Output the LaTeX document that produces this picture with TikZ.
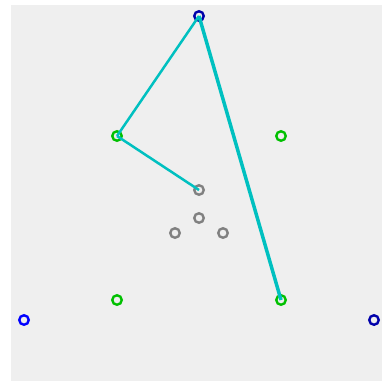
\documentclass[tikz,border=0pt]{standalone}
\usepackage{xcolor}
\definecolor{panelGray}{HTML}{EFEFEF}
\definecolor{hubBlue}{HTML}{0000AA}
\definecolor{edgeBlue}{HTML}{0000FF}
\definecolor{ringGreen}{HTML}{00C000}
\definecolor{coreGray}{HTML}{808080}
\definecolor{linkCyan}{HTML}{00C0C0}
\usepackage{tikz}
\usetikzlibrary{
    calc,
    backgrounds
}
\tikzset{
    % Base style for all markers
    marker base/.style={
        circle,
        inner sep=0pt,
        minimum size=9.5pt,
        line width=2.4pt,
        fill=none,
    },
    % Outer blue markers
    hub/.style={marker base, draw=hubBlue},
    hub light/.style={marker base, draw=edgeBlue},
    % Middle green markers
    ring/.style={marker base, draw=ringGreen},
    % Inner gray markers
    core/.style={marker base, draw=coreGray},
    % Connector lines
    link/.style={draw=linkCyan, line width=2.5pt},
    link strong/.style={link, line width=3.5pt},
}

\begin{document}
\begin{tikzpicture}[x=1pt, y=-1pt]
    \useasboundingbox (0,0) rectangle (382,381);
    \fill[panelGray] (11,5) rectangle (382,381);

    \node (top) [hub] at (199,16) {};
    \node (left) [hub light] at (24,320) {};
    \node (right) [hub] at (374,320) {};

    \node (ringNW) [ring] at (117,136) {};
    \node (ringNE) [ring] at (281,136) {};
    \node (ringSW) [ring] at (117,300) {};
    \node (ringSE) [ring] at (281,300) {};

    \node (coreA) [core] at (199,190) {};
    \node (coreB) [core] at (199,218) {};
    \node (coreC) [core] at (175,233) {};
    \node (coreD) [core] at (223,233) {};

    \draw [link] (top.center) -- (ringNW.center);
    \draw [link] (ringNW.center) -- (coreA.center);
    \draw [link strong] (top.center) -- (ringSE.center);
\end{tikzpicture}
\end{document}
